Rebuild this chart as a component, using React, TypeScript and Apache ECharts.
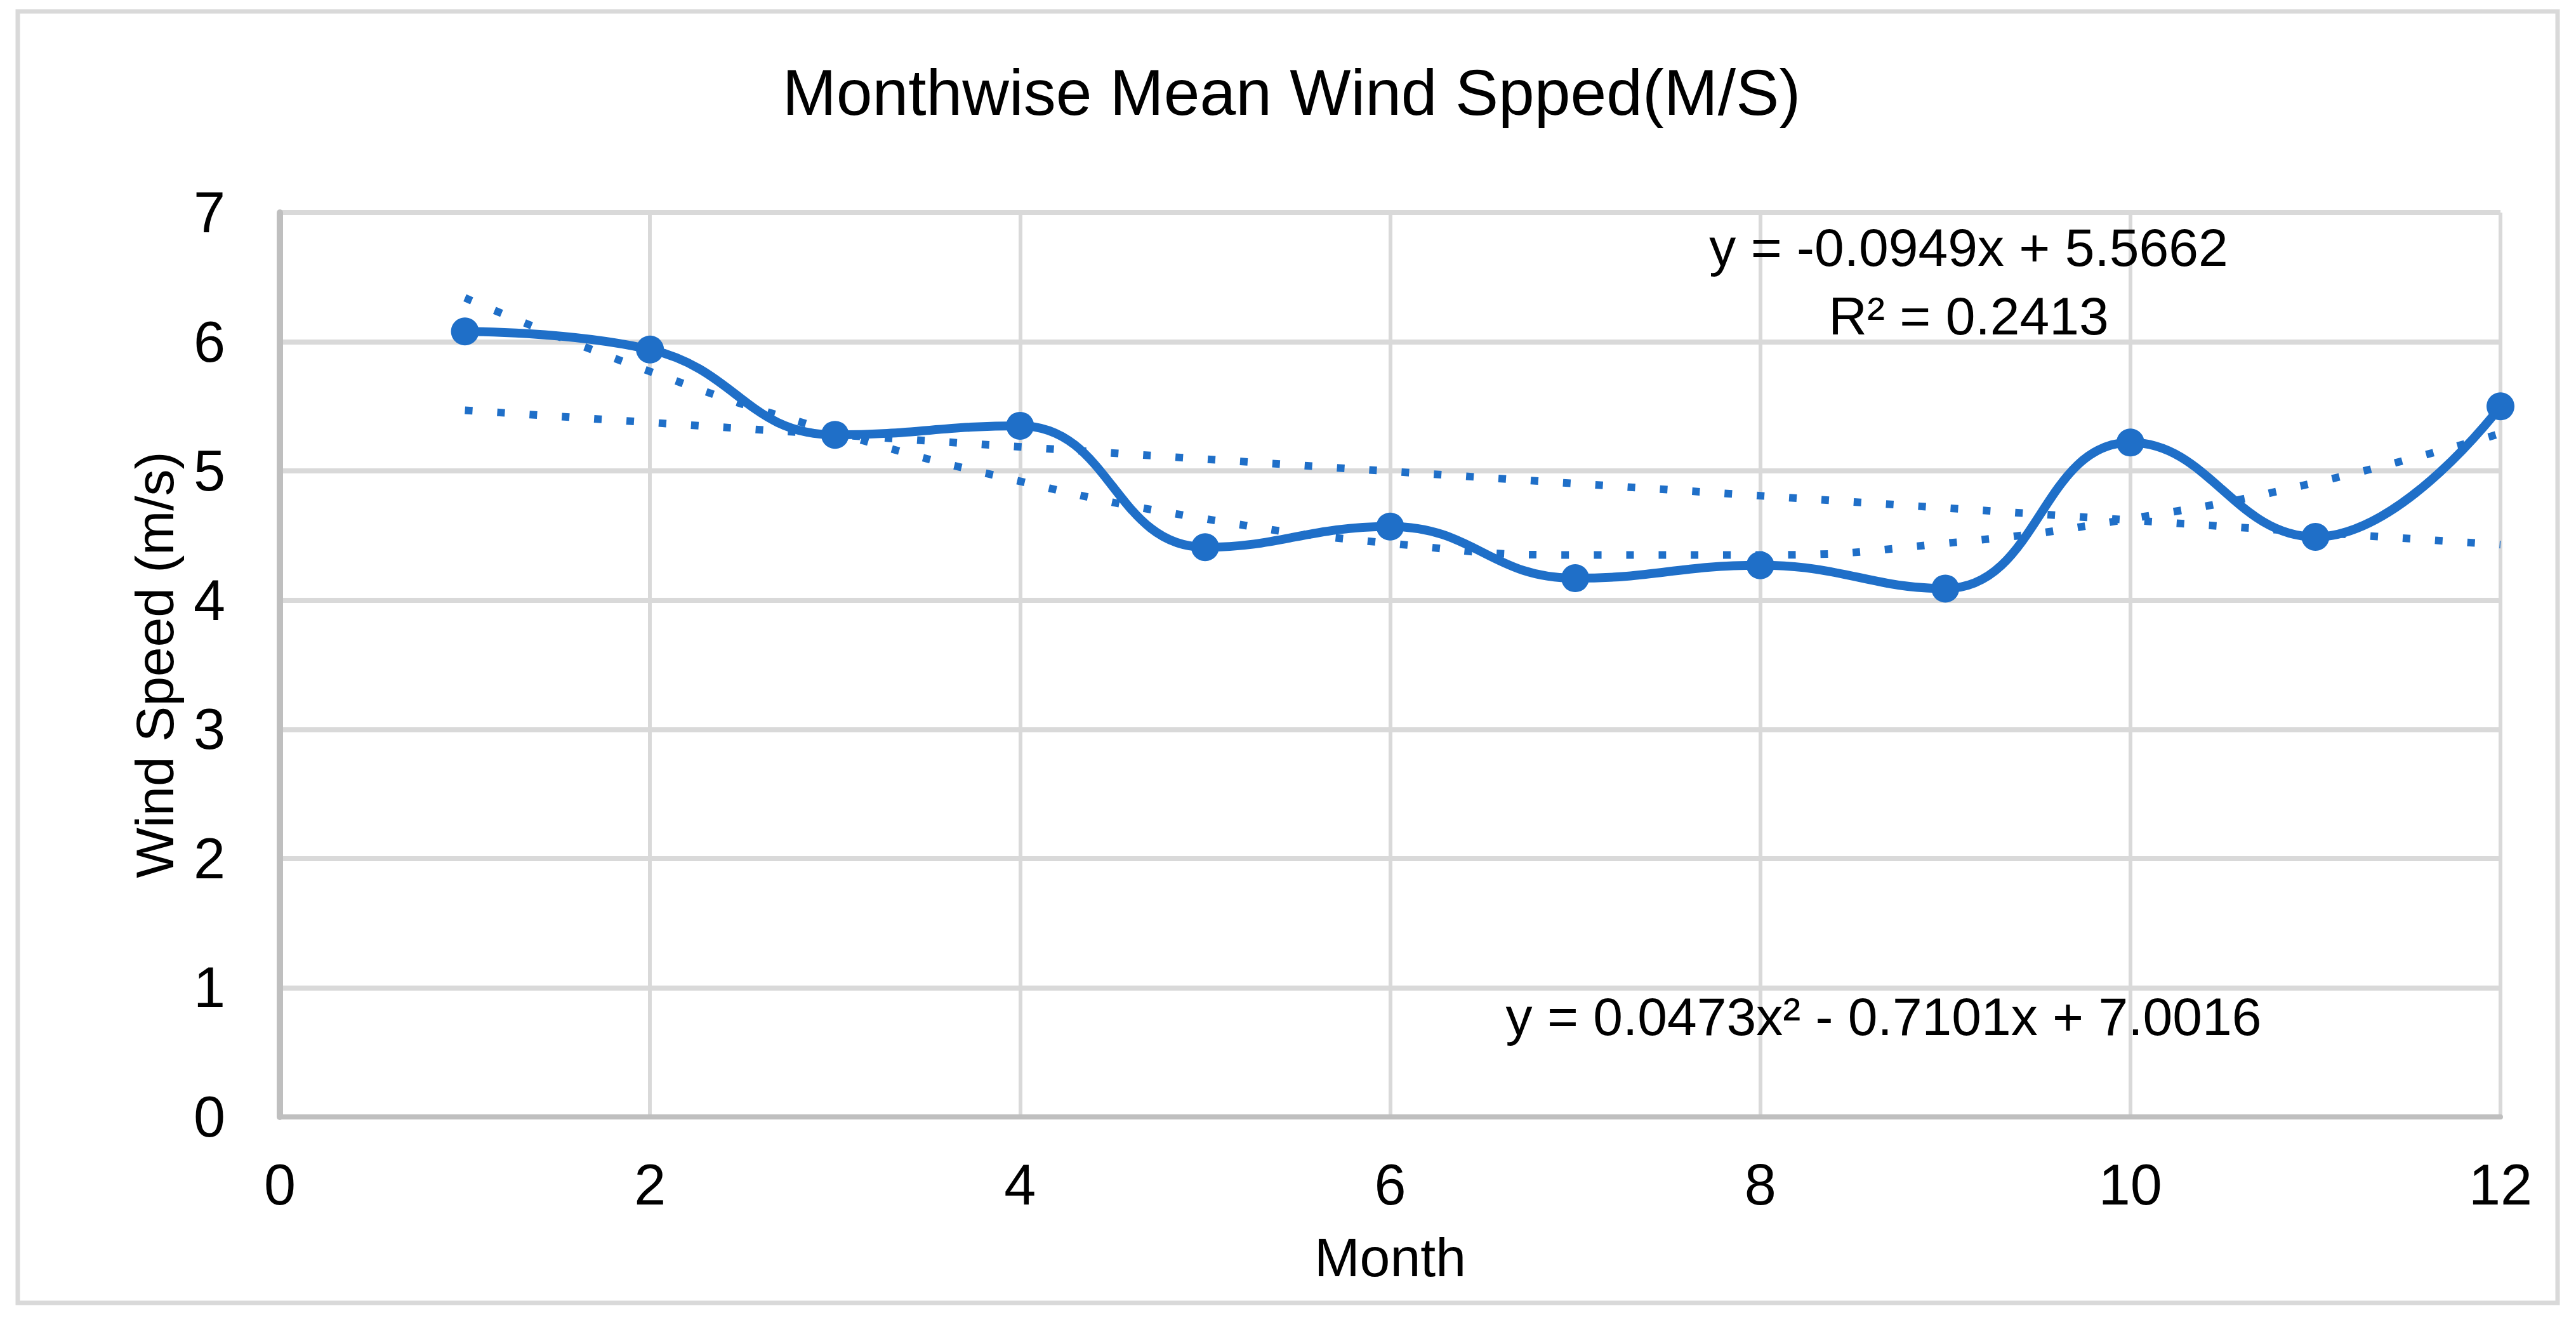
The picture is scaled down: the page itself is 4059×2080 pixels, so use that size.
import React, { useEffect, useRef } from "react";
import * as echarts from "echarts";

// ---- data ----
const months = [1, 2, 3, 4, 5, 6, 7, 8, 9, 10, 11, 12];
const windSpeed = [6.08, 5.94, 5.28, 5.35, 4.41, 4.57, 4.17, 4.27, 4.09, 5.22, 4.49, 5.5];
// linear trendline (y = -0.0949x + 5.5662), endpoints as drawn
const linearTrendX = [1, 12];
const linearTrendY = [5.47, 4.43];
// polynomial trendline (y = 0.0473x² - 0.7101x + 7.0016), values as drawn at each month
const polyTrendY = [6.34, 5.77, 5.3, 4.92, 4.63, 4.44, 4.35, 4.35, 4.44, 4.63, 4.91, 5.29];

const titleText = "Monthwise Mean Wind Spped(M/S)";
const xAxisName = "Month";
const yAxisName = "Wind Speed (m/s)";
const linearEq = "y = -0.0949x + 5.5662";
const linearR2 = "R² = 0.2413";
const polyEq = "y = 0.0473x² - 0.7101x + 7.0016";

const BLUE = "#1F6FC8";
const FONT = "'Liberation Sans', Arial, sans-serif";

export default function App() {
  const ref = useRef<HTMLDivElement>(null);
  useEffect(() => {
    if (!ref.current) return;
    const chart = echarts.init(ref.current, undefined, { renderer: "svg" });
    const mainData = months.map((m, i) => [m, windSpeed[i]]);
    const linData = linearTrendX.map((x, i) => [x, linearTrendY[i]]);
    const polyData = months.map((m, i) => [m, polyTrendY[i]]);
    chart.setOption({
      animation: false,
      backgroundColor: "#ffffff",
      textStyle: { fontFamily: FONT },
      title: {
        text: titleText,
        left: 2030,
        textAlign: "center",
        top: 90,
        textStyle: { fontSize: 102, fontWeight: "normal", color: "#000", fontFamily: FONT },
      },
      grid: { left: 441, right: 119, top: 335, bottom: 320, containLabel: false },
      xAxis: {
        type: "value",
        min: 0,
        max: 12,
        interval: 2,
        name: xAxisName,
        nameLocation: "middle",
        nameGap: 178,
        nameTextStyle: { fontSize: 86, color: "#000", fontFamily: FONT },
        axisLine: { show: true, lineStyle: { color: "#BFBFBF", width: 8 } },
        axisTick: { show: false },
        axisLabel: { fontSize: 90, color: "#000", margin: 62, fontFamily: FONT },
        splitLine: { show: true, lineStyle: { color: "#D9D9D9", width: 6 } },
      },
      yAxis: {
        type: "value",
        min: 0,
        max: 7,
        interval: 1,
        name: yAxisName,
        nameLocation: "middle",
        nameGap: 155,
        nameRotate: 90,
        nameTextStyle: { fontSize: 84, color: "#000", fontFamily: FONT },
        axisLine: { show: true, lineStyle: { color: "#BFBFBF", width: 10 } },
        axisTick: { show: false },
        axisLabel: { fontSize: 90, color: "#000", margin: 86, fontFamily: FONT },
        splitLine: { show: true, lineStyle: { color: "#D9D9D9", width: 8 } },
      },
      series: [
        {
          type: "line",
          data: linData,
          showSymbol: false,
          lineStyle: { color: BLUE, width: 12, type: [12, 39], cap: "butt" },
          z: 3,
        },
        {
          type: "line",
          data: polyData,
          smooth: true,
          showSymbol: false,
          lineStyle: { color: BLUE, width: 12, type: [12, 39], cap: "butt" },
          z: 3,
        },
        {
          type: "line",
          data: mainData,
          smooth: 0.45,
          symbol: "circle",
          symbolSize: 44,
          itemStyle: { color: BLUE },
          lineStyle: { color: BLUE, width: 14 },
          z: 4,
        },
      ],
      graphic: [
        {
          type: "rect",
          shape: { x: 28, y: 18, width: 4002, height: 2035 },
          style: { fill: "none", stroke: "#D9D9D9", lineWidth: 7 },
          silent: true,
        },
        {
          type: "text",
          x: 3102,
          y: 390,
          style: { text: linearEq, fontSize: 84, fill: "#000", textAlign: "center", textVerticalAlign: "middle", fontFamily: FONT },
          z: 10,
        },
        {
          type: "text",
          x: 3102,
          y: 498,
          style: { text: linearR2, fontSize: 84, fill: "#000", textAlign: "center", textVerticalAlign: "middle", fontFamily: FONT },
          z: 10,
        },
        {
          type: "text",
          x: 2968,
          y: 1602,
          style: { text: polyEq, fontSize: 84, fill: "#000", textAlign: "center", textVerticalAlign: "middle", fontFamily: FONT },
          z: 10,
        },
      ],
    });
    return () => chart.dispose();
  }, []);
  return (
    <div
      ref={ref}
      style={{ position: "absolute", left: 0, top: 0, width: 4059, height: 2080, background: "#fff" }}
    />
  );
}
